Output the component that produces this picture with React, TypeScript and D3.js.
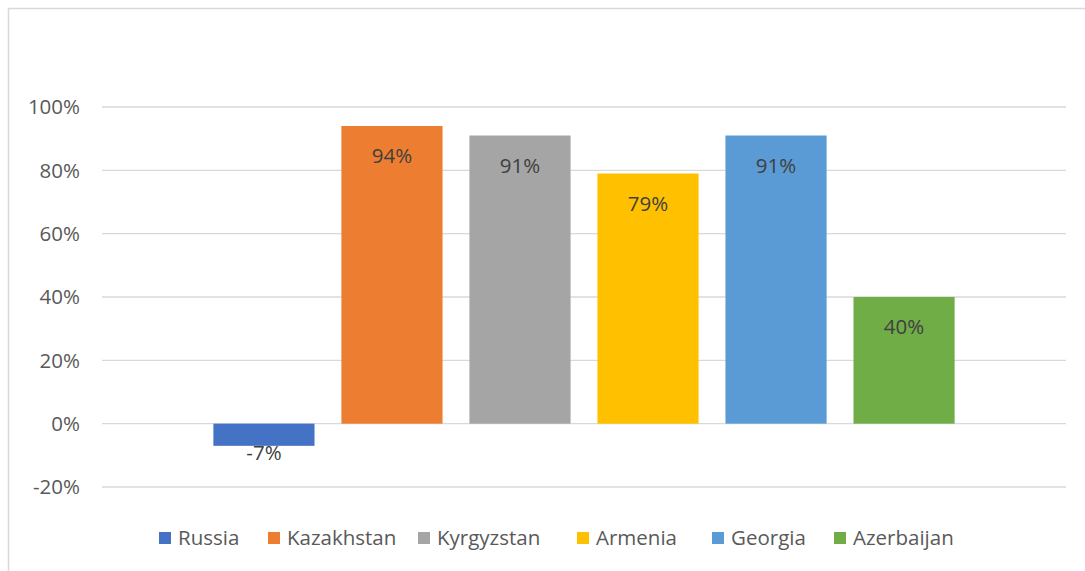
import React from 'react';
import * as d3 from 'd3';

const countries = ['Russia', 'Kazakhstan', 'Kyrgyzstan', 'Armenia', 'Georgia', 'Azerbaijan'];
const values = [-0.07, 0.94, 0.91, 0.79, 0.91, 0.4];
const colors = ['#4472C4', '#ED7D31', '#A5A5A5', '#FFC000', '#5B9BD5', '#70AD47'];
const yTicks = [-0.2, 0, 0.2, 0.4, 0.6, 0.8, 1.0];

const W = 1085;
const H = 571;
const FONT = '"Open Sans", "Noto Sans", sans-serif';

// hyphen minus like Excel, not the unicode minus
const fmt = (v: number) => `${Math.round(v * 100)}%`;

const App: React.FC = () => {
  const plotLeft = 102;
  const plotRight = 1066;

  const y = d3.scaleLinear().domain([-0.2, 1.0]).range([487, 107]);

  const x = d3
    .scaleBand<string>()
    .domain(countries)
    .range([plotLeft, plotRight])
    .paddingInner(0.21)
    .paddingOuter(0.87);

  // legend marker positions as in the reference
  const legendX = [159, 268, 418, 577, 712, 834];

  return (
    <svg
      width={W}
      height={H}
      style={{ position: 'absolute', left: 0, top: 0, background: '#fff' }}
      fontFamily={FONT}
    >
      <rect x={8.5} y={8.5} width={1100} height={600} fill="#fff" stroke="#d9d9d9" strokeWidth={1.5} />

      {yTicks.map(t => (
        <g key={t}>
          <line
            x1={plotLeft}
            x2={plotRight}
            y1={y(t)}
            y2={y(t)}
            stroke="#d9d9d9"
            strokeWidth={1.3}
          />
          <text
            x={80}
            y={y(t)}
            dy="0.35em"
            textAnchor="end"
            fontSize={20.5}
            fill="#595959"
          >
            {fmt(t)}
          </text>
        </g>
      ))}

      {countries.map((c, i) => {
        const v = values[i];
        const y0 = y(0);
        const y1 = y(v);
        const top = Math.min(y0, y1);
        const h = Math.abs(y1 - y0);
        const cx = (x(c) as number) + x.bandwidth() / 2;
        const ly = v >= 0 ? y1 + 37 : y1 + 14;
        return (
          <g key={c}>
            <rect x={x(c)} y={top} width={x.bandwidth()} height={h} fill={colors[i]} />
            <text x={cx} y={ly} textAnchor="middle" fontSize={20.5} fill="#404040">
              {fmt(v)}
            </text>
          </g>
        );
      })}

      {countries.map((c, i) => (
        <g key={`lg-${c}`} transform={`translate(${legendX[i]}, 538)`}>
          <rect x={0} y={-6} width={12} height={12} fill={colors[i]} />
          <text x={19} y={0} dy="0.35em" fontSize={20.5} fill="#595959">
            {c}
          </text>
        </g>
      ))}
    </svg>
  );
};

export default App;
